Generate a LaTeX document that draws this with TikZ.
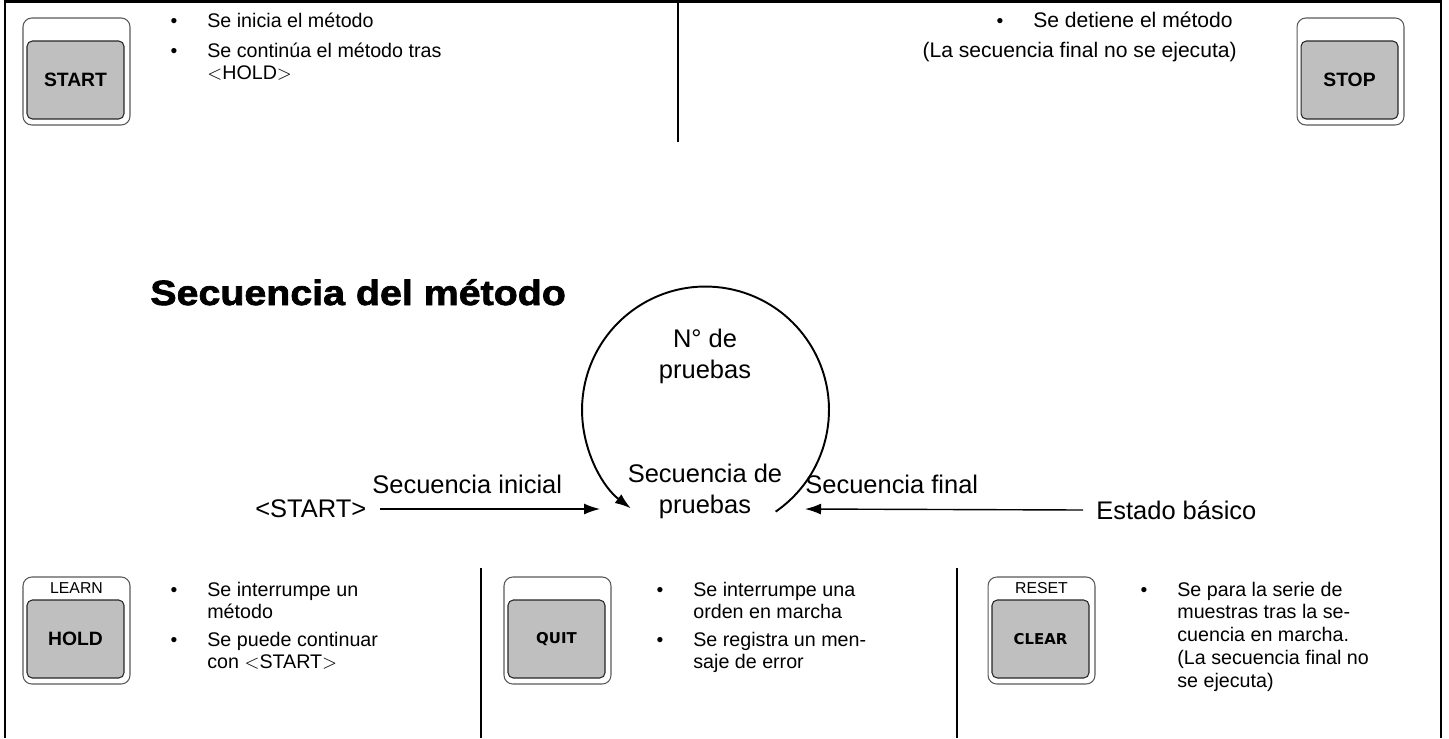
\documentclass[tikz,border=0pt]{standalone}
\usepackage{fontspec}
\setmainfont{Liberation Sans}
\newfontfamily\keyfont{DejaVu Sans}
\newfontfamily\titlefont[FakeBold=2,FakeStretch=1.12]{Liberation Sans Bold}
\usetikzlibrary{arrows.meta, positioning}

% key drawing: name, centre x, top y, small label, key label
\newcommand{\keypad}[5]{%
  \node[keyouter] (#1) at (#2,#3+53.5) {};
  \node[keyinner] (#1face) at (#2-1,#3+62) {#5};
  \node[keylbl] (#1top) at (#2,#3+11) {#4};
}
% bullet item: name, bullet x, baseline y of first line, text
\newcommand{\bitem}[4]{%
  \node[bul] (#1dot) at (#2,#3) {\textbullet};
  \node[txt] (#1) at (#2+33,#3) {\parbox[t]{6cm}{\raggedright #4}};
}

\begin{document}
\begin{tikzpicture}[
    x=0.02cm, y=-0.02cm,
    frame/.style={line width=1.6pt},
    divider/.style={line width=1.1pt},
    keyouter/.style={draw=black!65, line width=0.6pt, rounded corners=5pt, minimum width=2.14cm, minimum height=2.14cm, inner sep=0pt},
    keyinner/.style={draw=black!85, fill=black!25, line width=0.6pt, rounded corners=3pt, minimum width=1.94cm, minimum height=1.56cm, inner sep=0pt},
    keylbl/.style={font=\fontsize{9}{10}\selectfont, inner sep=0pt},
    txt/.style={font=\fontsize{11.2}{13}\selectfont, inner sep=0pt, anchor=base west},
    bul/.style={font=\fontsize{11}{13}\selectfont, inner sep=0pt, anchor=base},
    lbl/.style={font=\fontsize{14.5}{17.6}\selectfont, inner sep=0pt},
    arr/.style={-{Latex[length=3.2mm, width=2.2mm]}, line width=0.8pt},
    cyc/.style={-{Latex[length=3.2mm, width=2.2mm]}, line width=1.1pt}
]
\useasboundingbox (0,0) rectangle (1449,738);

% frame and dividers
\draw[frame] (5,738) -- (5,1.5) -- (1441,1.5) -- (1441,738);
\draw[divider] (678,1.5) -- (678,142);
\draw[divider] (481,568) -- (481,738);
\draw[divider] (957,568) -- (957,738);

% top row
\keypad{start}{76.5}{18}{}{\bfseries\fontsize{11}{13}\selectfont START}
\bitem{startA}{174}{27}{Se inicia el método}
\bitem{startB}{174}{57}{Se continúa el método tras\\$<$HOLD$>$}

\keypad{stop}{1350.5}{18}{}{\bfseries\fontsize{11}{13}\selectfont STOP}
\bitem{stopA}{1000}{27}{\fontsize{12}{13}\selectfont Se detiene el método}
\node[txt, anchor=base east, font=\fontsize{12}{13}\selectfont] (stopB) at (1237,57) {(La secuencia final no se ejecuta)};

% title
\node[font=\titlefont\fontsize{20}{24}\selectfont, anchor=base west, inner sep=0pt] (title) at (150,305) {Secuencia del método};

% method cycle
\coordinate (loop) at (705.5,410);
\draw[cyc] (loop) ++(304.6:2.47cm) arc[start angle=304.6, end angle=592.8, radius=2.47cm];
\node[lbl, align=center, anchor=base] (tests) at (705,378) {N° de\\pruebas};
\node[lbl, align=center, anchor=base] (seq) at (705,513) {Secuencia de\\pruebas};

\node[lbl, anchor=west] (startlbl) at (255,509) {<START>};
\coordinate (inL) at (600,509);
\draw[arr] ([xshift=0.26cm]startlbl.east) -- (inL);
\node[lbl, anchor=base west] (initial) at (372,493) {Secuencia inicial};

\node[lbl, anchor=west] (basic) at (1096,510) {Estado básico};
\coordinate (inR) at (805,509);
\draw[arr] ([xshift=-0.26cm]basic.west) -- (inR);
\node[lbl, anchor=base west] (final) at (805,493) {Secuencia final};

% bottom row
\keypad{hold}{76.5}{577}{LEARN}{\bfseries\fontsize{11}{13}\selectfont HOLD}
\bitem{holdA}{174}{596}{Se interrumpe un\\método}
\bitem{holdB}{174}{646}{Se puede continuar\\con $<$START$>$}

\keypad{quit}{557.5}{577}{}{\keyfont\bfseries\fontsize{8.5}{10}\selectfont QUIT}
\bitem{quitA}{660}{596}{Se interrumpe una\\orden en marcha}
\bitem{quitB}{660}{646}{Se registra un men-\\saje de error}

\keypad{clear}{1041.5}{577}{RESET}{\keyfont\bfseries\fontsize{8.5}{10}\selectfont CLEAR}
\bitem{clearA}{1144}{596}{Se para la serie de\\muestras tras la se-\\cuencia en marcha.\\(La secuencia final no\\se ejecuta)}
\end{tikzpicture}
\end{document}
